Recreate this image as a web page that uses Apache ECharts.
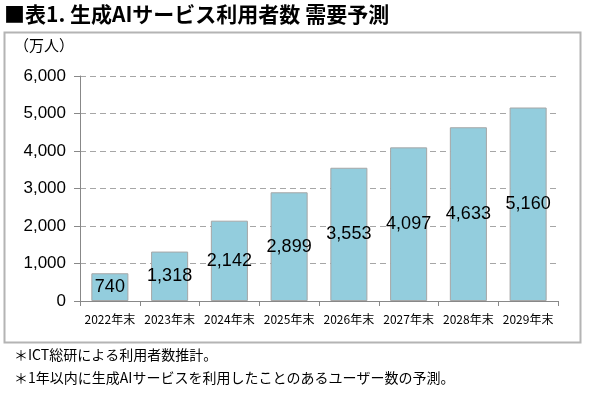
<!DOCTYPE html>
<html><head><meta charset="utf-8">
<script src="https://cdn.jsdelivr.net/npm/echarts@6/dist/echarts.min.js"></script>
<style>html,body{margin:0;padding:0;background:#fff}#c{width:600px;height:393px}</style>
</head><body><div id="c"></div>
<script>
const categories = ["2022年末","2023年末","2024年末","2025年末","2026年末","2027年末","2028年末","2029年末"];
const users = [740, 1318, 2142, 2899, 3553, 4097, 4633, 5160];
const titleText = "■表1. 生成AIサービス利用者数 需要予測";
const unitText = "（万人）";
const notes = ["＊ICT総研による利用者数推計。", "＊1年以内に生成AIサービスを利用したことのあるユーザー数の予測。"];

const jp = '"Noto Sans CJK JP", sans-serif';
const chart = echarts.init(document.getElementById('c'));
chart.setOption({
  animation: false,
  textStyle: {fontFamily: jp},
  graphic: [
    {type:'rect', shape:{x:4.5,y:32.5,width:576,height:310}, style:{fill:'none', stroke:'#b4b4b4', lineWidth:2}, z:-1},
    {type:'text', left:4, top:4, style:{text:titleText, font:'bold 21px "Noto Sans CJK JP"', fill:'#000'}},
    {type:'text', left:14, top:38, style:{text:unitText, font:'15px "Noto Sans CJK JP"', fill:'#000'}},
    {type:'text', left:14, top:348, style:{text:notes[0], font:'14px "Noto Sans CJK JP"', fill:'#000'}},
    {type:'text', left:14, top:371, style:{text:notes[1], font:'14px "Noto Sans CJK JP"', fill:'#000'}}
  ],
  grid: {left:80, right:42, top:76, bottom:92, containLabel:false},
  xAxis: {
    type:'category', data:categories,
    axisLine:{lineStyle:{color:'#888', width:1}},
    axisTick:{show:true, alignWithLabel:false, length:5, lineStyle:{color:'#888'}},
    axisLabel:{color:'#000', fontSize:12, margin:12, fontFamily:jp, interval:0}
  },
  yAxis: {
    type:'value', min:0, max:6000, interval:1000,
    axisLine:{show:true, lineStyle:{color:'#888'}},
    axisTick:{show:true, length:6, lineStyle:{color:'#888'}},
    splitLine:{lineStyle:{color:'#a6a6a6', type:[6,4], width:1.2}},
    axisLabel:{color:'#000', fontSize:17, margin:14, fontFamily:'"Liberation Sans", Arial, sans-serif',
      formatter: v => v.toLocaleString('en-US')}
  },
  series: [{
    type:'bar', data:users, barWidth:'62%',
    itemStyle:{color:'#93cddd', borderColor:'#a6a6a6', borderWidth:1},
    label:{show:true, position:'inside', color:'#000', fontSize:18,
      fontFamily:'"Liberation Sans", Arial, sans-serif',
      formatter: p => p.value.toLocaleString('en-US')}
  }]
});
</script></body></html>
